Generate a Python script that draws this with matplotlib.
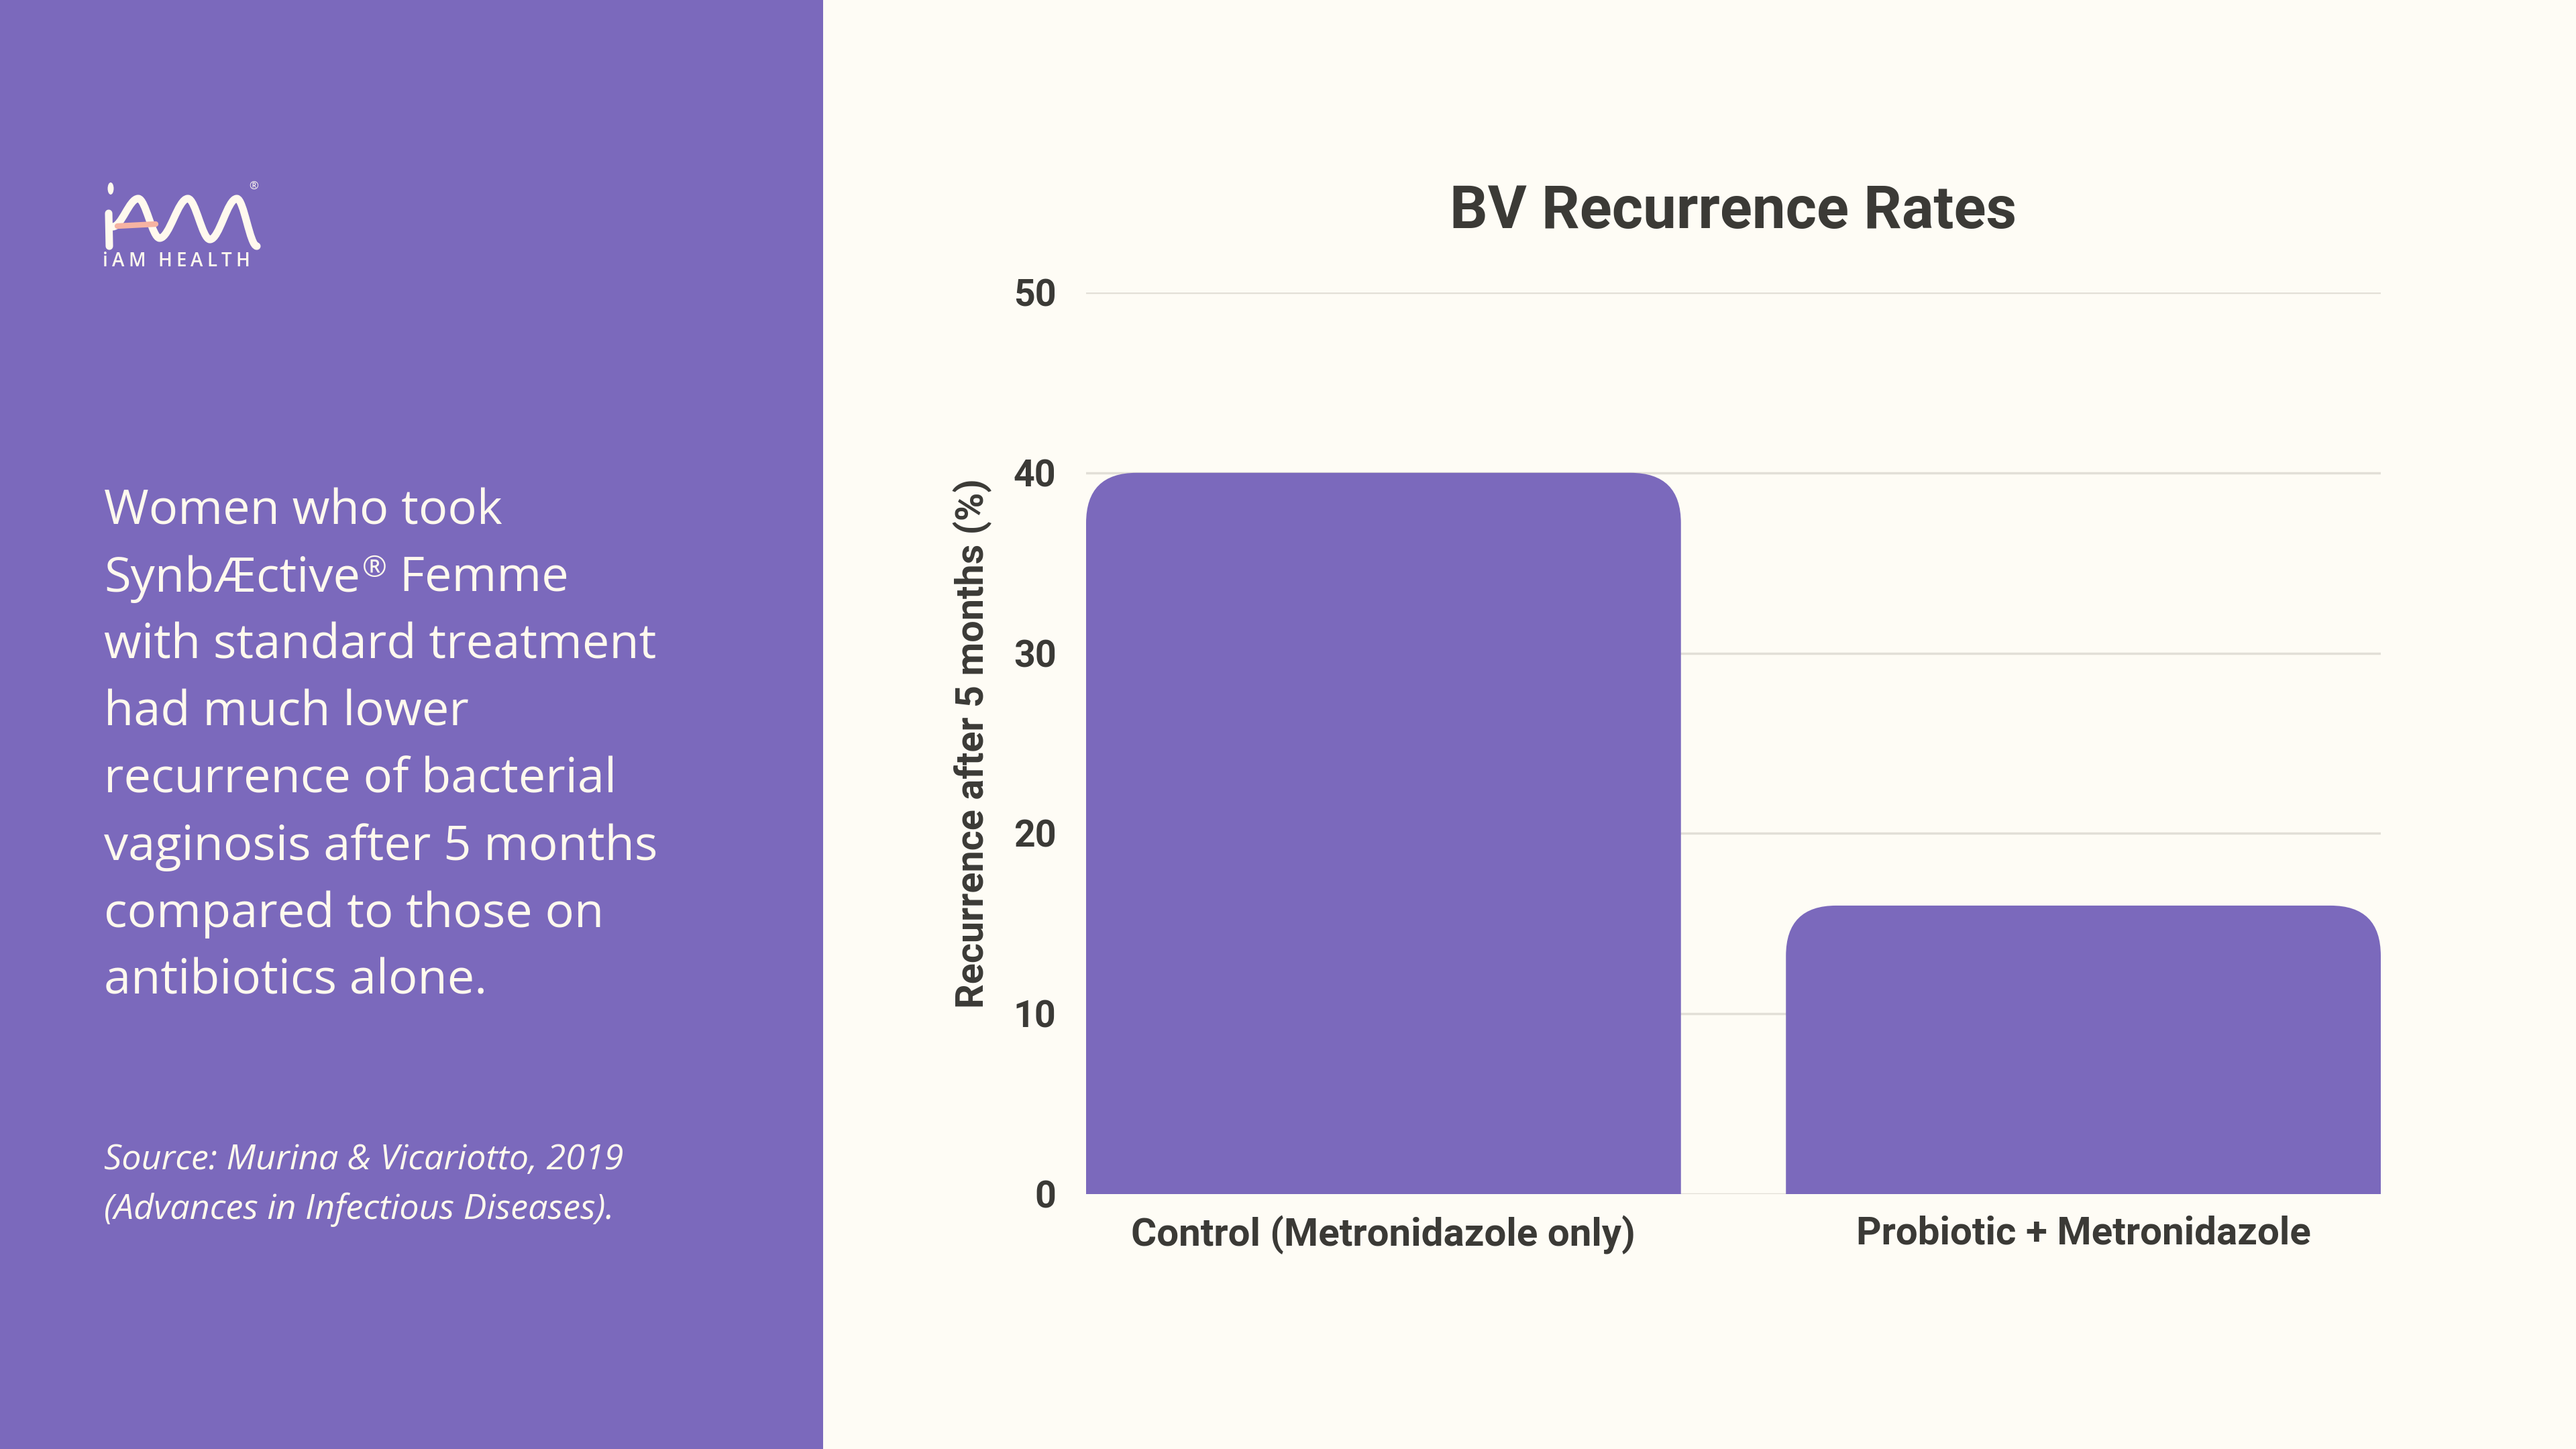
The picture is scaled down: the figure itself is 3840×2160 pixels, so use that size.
import numpy as np
import matplotlib.pyplot as plt
from matplotlib.patches import PathPatch, Rectangle, Ellipse
from matplotlib.path import Path

# data
categories = ['Control (Metronidazole only)', 'Probiotic + Metronidazole']
recurrence = [40, 16]
yticks = [0, 10, 20, 30, 40, 50]

title = 'BV Recurrence Rates'
ylabel = 'Recurrence after 5 months (%)'
body_lines = ['Women who took', 'SynbÆctive® Femme', 'with standard treatment',
              'had much lower', 'recurrence of bacterial', 'vaginosis after 5 months',
              'compared to those on', 'antibiotics alone.']
source_lines = ['Source: Murina & Vicariotto, 2019', '(Advances in Infectious Diseases).']
brand = 'iAM HEALTH'

# colours
PURPLE = '#7B69BC'
BG = '#FEFCF5'
CREAM = '#FFF9EE'
DARK = '#3B3A36'
GRID = '#E2DFD7'
PINK = '#F6B3A2'

BOLD = ['Roboto', 'DejaVu Sans']
REG = ['Open Sans', 'Roboto', 'DejaVu Sans']

W, H = 3840, 2160


def fx(x):
    return x / W


def fy(y):
    return 1 - y / H


fig = plt.figure(figsize=(38.4, 21.6), dpi=100, facecolor=BG)
renderer = fig.canvas.get_renderer()

# left panel
fig.add_artist(Rectangle((0, 0), fx(1227), 1, transform=fig.transFigure,
                         facecolor=PURPLE, edgecolor='none', zorder=0))

# logo
wave = [(168, 338), (206, 296), (238, 355), (280, 296), (313, 357), (353, 296), (383, 367)]
verts = [wave[0]]
codes = [Path.MOVETO]
for (x0, y0), (x1, y1) in zip(wave[:-1], wave[1:]):
    d = (x1 - x0) * 0.35
    verts += [(x0 + d, y0), (x1 - d, y1), (x1, y1)]
    codes += [Path.CURVE4] * 3
verts = [(fx(x), fy(y)) for x, y in verts]
fig.add_artist(PathPatch(Path(verts, codes), transform=fig.transFigure, fill=False,
                         edgecolor=CREAM, lw=8, capstyle='round', joinstyle='round', zorder=3))
fig.add_artist(plt.Line2D([fx(162), fx(163)], [fy(318), fy(367)], transform=fig.transFigure,
                          color=CREAM, lw=8, solid_capstyle='round', zorder=3))
fig.add_artist(Ellipse((fx(165), fy(281)), fx(9), 18 / H, transform=fig.transFigure,
                       facecolor=CREAM, edgecolor='none', zorder=3))
fig.add_artist(plt.Line2D([fx(175), fx(232)], [fy(337), fy(334)], transform=fig.transFigure,
                          color=PINK, lw=6, solid_capstyle='round', zorder=4))
fig.text(fx(378), fy(279), '®', color=CREAM, fontsize=12, ha='center', va='center', family=REG)

# letter-spaced brand name
xpos = 153
for ch in brand:
    t = fig.text(fx(xpos), fy(397), ch, color=CREAM, fontsize=20, ha='left', va='baseline',
                 family=REG, fontweight='semibold')
    if ch == ' ':
        xpos += 13
    else:
        xpos += t.get_window_extent(renderer).width + 6

# left text (the ® is set as a superscript)
for i, line in enumerate(body_lines):
    y = fy(782 + 100 * i)
    if '®' in line:
        head, tail = line.split('®')
        t = fig.text(fx(155), y, head, color=CREAM, fontsize=52, ha='left',
                     va='baseline', family=REG)
        xe = t.get_window_extent(renderer).x1 + 3
        t2 = fig.text(fx(xe), y + 22 / H, '®', color=CREAM, fontsize=32, ha='left',
                      va='baseline', family=REG)
        xe = t2.get_window_extent(renderer).x1
        fig.text(fx(xe), y, tail, color=CREAM, fontsize=52, ha='left',
                 va='baseline', family=REG)
    else:
        fig.text(fx(155), y, line, color=CREAM, fontsize=52, ha='left',
                 va='baseline', family=REG)
for i, line in enumerate(source_lines):
    fig.text(fx(155), fy(1743 + 74 * i), line, color=CREAM, fontsize=37.5, ha='left',
             va='baseline', family=REG, style='italic')

# chart
ax = fig.add_axes([fx(1619), fy(1780), fx(3549) - fx(1619), fy(436) - fy(1780)])
ax.set_facecolor('none')
bar_w = 0.85
x = np.arange(len(categories))
bars = ax.bar(x, recurrence, width=bar_w, color=PURPLE, zorder=2)
ax.set_xlim(-bar_w / 2, len(categories) - 1 + bar_w / 2)
ax.set_ylim(0, 50)

# rounded top corners
r_px = 75
ax_w_px = 3549 - 1619
ax_h_px = 1780 - 436
rx = r_px * (len(categories) - 1 + bar_w) / ax_w_px
ry = r_px * 50 / ax_h_px
for b in bars:
    x0, w, h = b.get_x(), b.get_width(), b.get_height()
    b.set_visible(False)
    v = [(x0, 0), (x0, h - ry), (x0, h), (x0 + rx, h), (x0 + w - rx, h), (x0 + w, h),
         (x0 + w, h - ry), (x0 + w, 0), (x0, 0)]
    c = [Path.MOVETO, Path.LINETO, Path.CURVE3, Path.CURVE3, Path.LINETO, Path.CURVE3,
         Path.CURVE3, Path.LINETO, Path.CLOSEPOLY]
    ax.add_patch(PathPatch(Path(v, c), facecolor=PURPLE, edgecolor='none', zorder=2))

ax.set_yticks(yticks)
ax.yaxis.grid(True, color=GRID, lw=2.5, zorder=0)
ax.set_axisbelow(True)
for s in ax.spines.values():
    s.set_visible(False)
ax.tick_params(length=0)
ax.tick_params(axis='y', pad=32)
ax.tick_params(axis='x', pad=23)
ax.set_xticks(x)
ax.set_xticklabels(categories)
for lab in ax.get_yticklabels():
    lab.set_family(BOLD)
    lab.set_fontweight('bold')
    lab.set_fontsize(40)
    lab.set_color(DARK)
for lab in ax.get_xticklabels():
    lab.set_family(BOLD)
    lab.set_fontweight('bold')
    lab.set_fontsize(42)
    lab.set_color(DARK)

fig.text(fx(1450), (fy(436) + fy(1780)) / 2, ylabel, rotation=90, ha='center', va='center',
         fontsize=41.5, fontweight='bold', family=BOLD, color=DARK)
fig.text((fx(1619) + fx(3549)) / 2, fy(340), title, ha='center', va='baseline',
         fontsize=64, fontweight='bold', family=BOLD, color=DARK)

fig.savefig('out.png', dpi=100, facecolor=BG)
